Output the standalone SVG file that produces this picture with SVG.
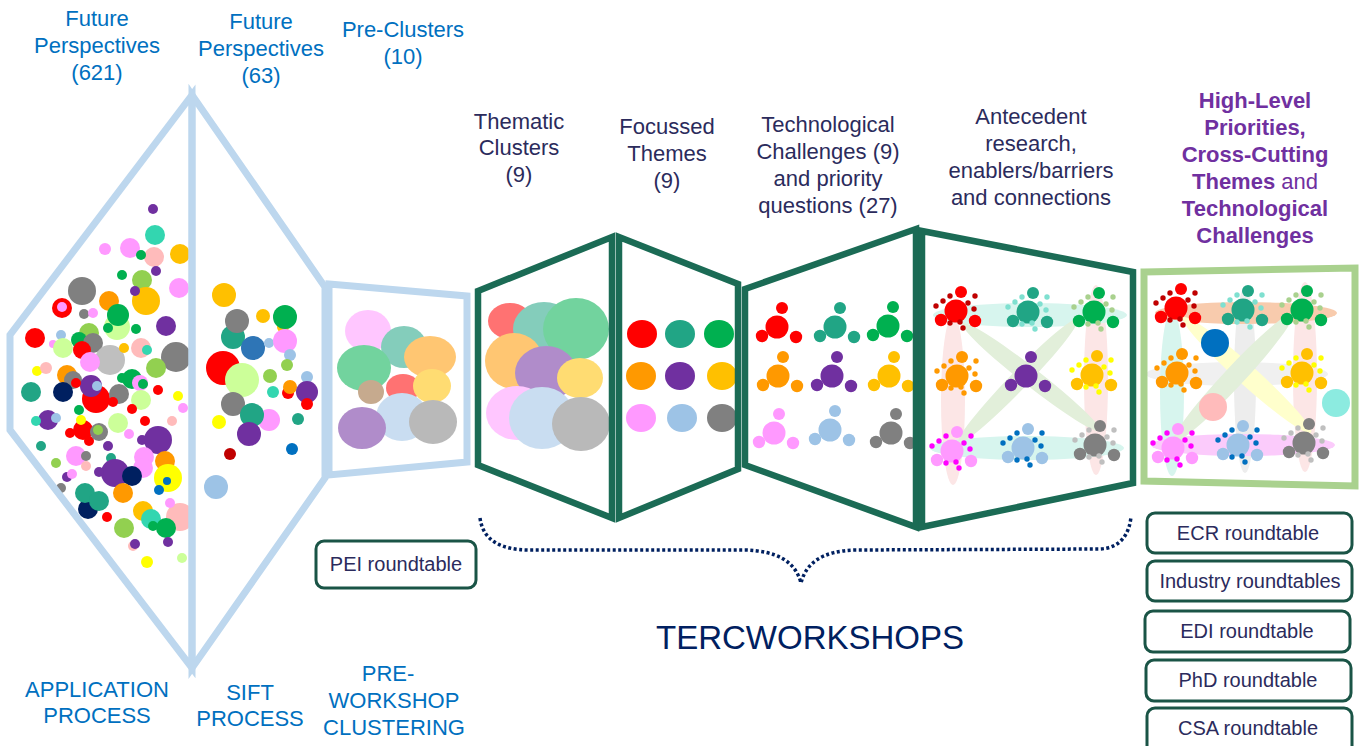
<svg xmlns="http://www.w3.org/2000/svg" xmlns:xlink="http://www.w3.org/1999/xlink" width="1363" height="746" viewBox="0 0 1363 746">
<style>
.r{fill:#FF0000}.tl{fill:#21A585}.g{fill:#00B050}.o{fill:#FF9900}.p{fill:#7030A0}.y{fill:#FFC000}
.pk{fill:#FF99FF}.lb{fill:#9DC3E6}.gy{fill:#808080}.lg{fill:#CCFF99}.yg{fill:#92D050}.tq{fill:#33D6B0}
.lp{fill:#FFBBBB}.nv{fill:#002060}.yl{fill:#FFFF00}.sv{fill:#BFBFBF}.bl{fill:#0070C0}.sb{fill:#2E75B6}.dr{fill:#C00000}
.out-lb{fill:none;stroke:#BDD7EE;stroke-width:7;stroke-linejoin:miter}
.out-dg{fill:none;stroke:#1B6B55;stroke-width:6.5;stroke-linejoin:miter}
.out-lg{fill:none;stroke:#A9D18E;stroke-width:7;stroke-linejoin:miter}
.tr{opacity:0.55}
.txt{font-family:"Liberation Sans",Arial,sans-serif;font-size:22px;text-anchor:middle}
.blue{fill:#0070C0}.dark{fill:#2B2B5C}.purp{fill:#7030A0;font-weight:bold}
.rt rect{fill:#FFFFFF;stroke:#1A5446;stroke-width:3}
.rt text{font-family:"Liberation Sans",Arial,sans-serif;font-size:20px;fill:#2B2B5C;text-anchor:middle}
.brace{fill:none;stroke:#002060;stroke-width:3.5;stroke-dasharray:3 2.5}
</style>
<defs>
<g id="tri"><circle r="11.5"/><circle cx="5" cy="-19" r="6"/><circle cx="-15" cy="9" r="6.2"/><circle cx="19" cy="10" r="6.2"/></g>
<g id="dots" fill="currentColor"><circle cx="-20" cy="-5" r="2.7"/><circle cx="-13" cy="-10" r="2.7"/><circle cx="-6" cy="-15" r="2.7"/><circle cx="19" cy="-15" r="2.7"/><circle cx="12" cy="-8" r="2.7"/><circle cx="18" cy="-2" r="2.7"/><circle cx="-6" cy="12" r="2.7"/><circle cx="4" cy="11" r="2.7"/><circle cx="7" cy="17" r="2.7"/></g>
</defs>
<rect width="1363" height="746" fill="#FFFFFF"/>

<g id="application-process">
<circle cx="153" cy="209" r="5" class="p"/><circle cx="155" cy="235" r="10" class="tq"/><circle cx="130" cy="248" r="10" class="pk"/><circle cx="105" cy="249" r="6" class="pk"/><circle cx="154" cy="257" r="10" class="lp"/><circle cx="141" cy="255" r="5" class="g"/><circle cx="180" cy="254" r="10" class="y"/><circle cx="156" cy="271" r="5" class="p"/><circle cx="122" cy="275" r="5" class="g"/><circle cx="142" cy="280" r="10" class="yg"/><circle cx="179" cy="288" r="10" class="pk"/><circle cx="82" cy="291" r="14" class="gy"/><circle cx="146" cy="301" r="14" class="y"/><circle cx="135" cy="291" r="5" class="p"/><circle cx="109" cy="301" r="10" class="o"/><circle cx="62" cy="308" r="10" class="r"/><circle cx="62" cy="307" r="5" class="pk"/><circle cx="84" cy="314" r="5" class="gy"/><circle cx="93" cy="313" r="5" class="pk"/><circle cx="117" cy="327" r="13" class="lg"/><circle cx="118" cy="315" r="11" class="g"/><circle cx="108" cy="328" r="5" class="g"/><circle cx="136" cy="329" r="5" class="g"/><circle cx="166" cy="326" r="10" class="p"/><circle cx="35" cy="338" r="10" class="r"/><circle cx="61" cy="335" r="5" class="lb"/><circle cx="89" cy="333" r="10" class="yg"/><circle cx="79" cy="340" r="8" class="g"/><circle cx="93" cy="343" r="10" class="gy"/><circle cx="53" cy="344" r="4" class="pk"/><circle cx="63" cy="348" r="10" class="lg"/><circle cx="82" cy="350" r="9" class="r"/><circle cx="141" cy="348" r="10" class="lp"/><circle cx="147" cy="350" r="5" class="tq"/><circle cx="110" cy="360" r="15" class="sv"/><circle cx="124" cy="348" r="5" class="y"/><circle cx="176" cy="357" r="15" class="gy"/><circle cx="90" cy="362" r="10" class="pk"/><circle cx="156" cy="368" r="10" class="yg"/><circle cx="37" cy="371" r="5" class="yl"/><circle cx="46" cy="368" r="6" class="lp"/><circle cx="67" cy="375" r="10" class="o"/><circle cx="73" cy="380" r="9" class="gy"/><circle cx="31" cy="392" r="10" class="tl"/><circle cx="63" cy="392" r="10" class="nv"/><circle cx="96" cy="399" r="14" class="r"/><circle cx="91" cy="386" r="11" class="p"/><circle cx="97" cy="386" r="5" class="lb"/><circle cx="76" cy="383" r="5" class="r"/><circle cx="119" cy="394" r="10" class="gy"/><circle cx="132" cy="379" r="10" class="g"/><circle cx="122" cy="378" r="5" class="g"/><circle cx="140" cy="383" r="8" class="pk"/><circle cx="143" cy="384" r="5" class="g"/><circle cx="141" cy="400" r="10" class="lg"/><circle cx="158" cy="390" r="5" class="r"/><circle cx="113" cy="402" r="5" class="r"/><circle cx="132" cy="409" r="5" class="r"/><circle cx="178" cy="396" r="5" class="yl"/><circle cx="183" cy="408" r="5" class="pk"/><circle cx="48" cy="420" r="10" class="p"/><circle cx="36" cy="421" r="5" class="tq"/><circle cx="56" cy="418" r="5" class="lb"/><circle cx="79" cy="410" r="5" class="g"/><circle cx="83" cy="430" r="10" class="r"/><circle cx="81" cy="420" r="5" class="yl"/><circle cx="70" cy="433" r="5" class="r"/><circle cx="89" cy="441" r="5" class="r"/><circle cx="99" cy="432" r="9" class="gy"/><circle cx="98" cy="430" r="5" class="yg"/><circle cx="118" cy="423" r="10" class="lg"/><circle cx="145" cy="421" r="5" class="r"/><circle cx="172" cy="421" r="5" class="lp"/><circle cx="129" cy="434" r="5" class="pk"/><circle cx="142" cy="440" r="5" class="p"/><circle cx="158" cy="440" r="14" class="p"/><circle cx="41" cy="446" r="5" class="tl"/><circle cx="108" cy="446" r="5" class="p"/><circle cx="76" cy="456" r="10" class="pk"/><circle cx="86" cy="456" r="5" class="gy"/><circle cx="56" cy="463" r="5" class="yg"/><circle cx="86" cy="466" r="5" class="lp"/><circle cx="111" cy="458" r="5" class="tl"/><circle cx="144" cy="457" r="10" class="pk"/><circle cx="143" cy="468" r="10" class="pk"/><circle cx="165" cy="461" r="10" class="o"/><circle cx="115" cy="473" r="14" class="p"/><circle cx="99" cy="472" r="5" class="p"/><circle cx="132" cy="476" r="10" class="nv"/><circle cx="168" cy="478" r="14" class="yl"/><circle cx="167" cy="481" r="4" class="bl"/><circle cx="159" cy="490" r="5" class="bl"/><circle cx="67" cy="477" r="5" class="p"/><circle cx="72" cy="474" r="5" class="pk"/><circle cx="61" cy="488" r="5" class="gy"/><circle cx="123" cy="493" r="10" class="o"/><circle cx="88" cy="509" r="10" class="nv"/><circle cx="85" cy="493" r="10" class="tl"/><circle cx="99" cy="501" r="10" class="tl"/><circle cx="107" cy="517" r="5" class="r"/><circle cx="143" cy="511" r="10" class="y"/><circle cx="151" cy="519" r="10" class="tq"/><circle cx="180" cy="517" r="14" class="lp"/><circle cx="170" cy="503" r="5" class="pk"/><circle cx="166" cy="528" r="10" class="g"/><circle cx="153" cy="526" r="5" class="g"/><circle cx="124" cy="528" r="10" class="yg"/><circle cx="133" cy="546" r="5" class="lp"/><circle cx="135" cy="544" r="5" class="p"/><circle cx="168" cy="542" r="5" class="p"/><circle cx="147" cy="562" r="6" class="yl"/><circle cx="182" cy="558" r="5" class="lg"/>
<polygon class="out-lb" points="192,95 10,335 10,430 192,668"/>
</g>

<g id="sift-process">
<circle cx="224" cy="295" r="12" class="y"/><circle cx="233" cy="337" r="12" class="tl"/><circle cx="237" cy="321" r="12" class="gy"/><circle cx="263" cy="316" r="7" class="y"/><circle cx="283" cy="327" r="6" class="y"/><circle cx="285" cy="317" r="12" class="g"/><circle cx="253" cy="348" r="12" class="sb"/><circle cx="269" cy="343" r="5" class="lb"/><circle cx="285" cy="341" r="12" class="pk"/><circle cx="290" cy="355" r="6" class="lb"/><circle cx="287" cy="365" r="6" class="yg"/><circle cx="223" cy="368" r="17" class="r"/><circle cx="242" cy="380" r="17" class="lg"/><circle cx="270" cy="376" r="7" class="yg"/><circle cx="307" cy="377" r="6" class="lb"/><circle cx="273" cy="392" r="6" class="tq"/><circle cx="288" cy="393" r="6" class="r"/><circle cx="290" cy="387" r="7" class="o"/><circle cx="307" cy="392" r="11" class="p"/><circle cx="307" cy="404" r="6" class="r"/><circle cx="233" cy="404" r="12" class="gy"/><circle cx="269" cy="420" r="11" class="pk"/><circle cx="252" cy="415" r="12" class="tl"/><circle cx="298" cy="419" r="6" class="tl"/><circle cx="219" cy="422" r="7" class="yl"/><circle cx="249" cy="434" r="12" class="p"/><circle cx="230" cy="454" r="6" class="dr"/><circle cx="292" cy="449" r="6" class="bl"/><circle cx="216" cy="487" r="12" class="lb"/>
<polygon class="out-lb" points="192,95 325,287 325,478 192,668"/>
</g>

<g id="pre-clusters">
<g class="tr">
<ellipse cx="368" cy="331" rx="23" ry="21" class="pk"/><ellipse cx="404" cy="347" rx="23" ry="21" class="tl"/><ellipse cx="430" cy="357" rx="26" ry="21" class="o"/><ellipse cx="364" cy="368" rx="27" ry="23" class="g"/><ellipse cx="403" cy="388" rx="17" ry="14" class="r"/><ellipse cx="371" cy="392" rx="13" ry="12" fill="#996633"/><ellipse cx="432" cy="386" rx="19" ry="17" class="y"/><ellipse cx="402" cy="417" rx="26" ry="24" class="lb"/><ellipse cx="362" cy="428" rx="24" ry="21" class="p"/><ellipse cx="433" cy="422" rx="24" ry="22" class="gy"/>
</g>
<polygon class="out-lb" points="329,284 467,296 467,462 329,475"/>
</g>

<g id="thematic-clusters">
<g class="tr">
<ellipse cx="510" cy="321" rx="22" ry="18" class="r"/><ellipse cx="544" cy="329" rx="31" ry="27" class="tl"/><ellipse cx="576" cy="329" rx="33" ry="31" class="g"/><ellipse cx="514" cy="361" rx="29" ry="28" class="o"/><ellipse cx="546" cy="373" rx="31" ry="27" class="p"/><ellipse cx="580" cy="378" rx="23" ry="20" class="y"/><ellipse cx="517" cy="413" rx="31" ry="27" class="pk"/><ellipse cx="542" cy="418" rx="33" ry="31" class="lb"/><ellipse cx="581" cy="424" rx="29" ry="27" class="gy"/>
</g>
<polygon class="out-dg" points="478,291 612,237 612,518 478,465"/>
</g>

<g id="focussed-themes">
<ellipse cx="642" cy="334" rx="15" ry="14" class="r"/><ellipse cx="680" cy="334" rx="15" ry="14" class="tl"/><ellipse cx="719" cy="334" rx="15" ry="14" class="g"/>
<ellipse cx="641" cy="376" rx="15" ry="14" class="o"/><ellipse cx="680" cy="376" rx="15" ry="14" class="p"/><ellipse cx="722" cy="376" rx="15" ry="14" class="y"/>
<ellipse cx="641" cy="418" rx="15" ry="14" class="pk"/><ellipse cx="682" cy="418" rx="15" ry="14" class="lb"/><ellipse cx="722" cy="418" rx="15" ry="14" class="gy"/>
<polygon class="out-dg" points="619,237 738,284 738,469 619,518"/>
</g>

<g id="technological-challenges">
<use href="#tri" x="777" y="327" fill="#FF0000"/><use href="#tri" x="835" y="327" fill="#21A585"/><use href="#tri" x="888" y="326" fill="#00B050"/>
<use href="#tri" x="778" y="376" fill="#FF9900"/><use href="#tri" x="832" y="376" fill="#7030A0"/><use href="#tri" x="889" y="376" fill="#FFC000"/>
<use href="#tri" x="774" y="433" fill="#FF99FF"/><use href="#tri" x="830" y="430" fill="#9DC3E6"/><use href="#tri" x="891" y="433" fill="#808080"/>
<polygon class="out-dg" points="745,289 916,229 916,527 745,465"/>
</g>

<g id="antecedent-research">
<ellipse cx="953" cy="400" rx="12" ry="85" fill="#FCE6E6"/>
<ellipse cx="1096" cy="380" rx="12" ry="95" fill="#FCE6E6"/>
<ellipse cx="1030" cy="315" rx="97" ry="12" fill="#D7F5EE"/>
<ellipse cx="1027" cy="448" rx="97" ry="12" fill="#D7F5EE"/>
<ellipse cx="1031" cy="377" rx="87" ry="9" fill="#E2EFDA" transform="rotate(38 1031 377)"/>
<ellipse cx="1018" cy="381" rx="86" ry="9" fill="#E2EFDA" transform="rotate(-46 1018 381)"/>
<use href="#tri" x="956" y="311" fill="#FF0000"/><use href="#dots" x="956" y="311" color="#C00000"/>
<use href="#tri" x="1028" y="312" fill="#21A585"/><use href="#dots" x="1028" y="312" color="#7FE0D0"/>
<use href="#tri" x="1094" y="312" fill="#00B050"/><use href="#dots" x="1094" y="312" color="#A9D18E"/>
<use href="#tri" x="957" y="376" fill="#FF9900"/><use href="#dots" x="957" y="376" color="#FF9900"/>
<use href="#tri" x="1026" y="376" fill="#7030A0"/>
<use href="#tri" x="1092" y="375" fill="#FFC000"/><use href="#dots" x="1092" y="375" color="#FFFF00"/>
<use href="#tri" x="952" y="451" fill="#FF99FF"/><use href="#dots" x="952" y="451" color="#FF00FF"/>
<use href="#tri" x="1023" y="448" fill="#9DC3E6"/><use href="#dots" x="1023" y="448" color="#0070C0"/>
<use href="#tri" x="1095" y="445" fill="#808080"/><use href="#dots" x="1095" y="445" color="#BFBFBF"/>
<polygon class="out-dg" points="922,231 1133,272 1133,483 922,527"/>
</g>

<g id="high-level-priorities">
<ellipse cx="1237" cy="374" rx="91" ry="12" fill="#F0F0F0"/>
<ellipse cx="1172" cy="393" rx="12" ry="83" fill="#D7F5EE"/>
<ellipse cx="1245" cy="380" rx="11" ry="93" fill="#EDEDED"/>
<ellipse cx="1305" cy="377" rx="12" ry="95" fill="#FCE6E6"/>
<ellipse cx="1246" cy="313" rx="91" ry="11" fill="#F8CBAD"/>
<ellipse cx="1243" cy="445" rx="92" ry="11" fill="#FBCBFB"/>
<ellipse cx="1247" cy="375" rx="86" ry="10" fill="#FFFFCC" transform="rotate(42 1247 375)"/>
<ellipse cx="1233" cy="378" rx="88" ry="10" fill="#E2EFDA" transform="rotate(-47 1233 378)"/>
<circle cx="1215" cy="343" r="14" fill="#0070C0"/>
<circle cx="1213" cy="407" r="14" fill="#FFBBBB"/>
<circle cx="1336" cy="403" r="14" fill="#8CEBE0"/>
<use href="#tri" x="1176" y="308" fill="#FF0000"/><use href="#dots" x="1176" y="308" color="#C00000"/>
<use href="#tri" x="1243" y="310" fill="#21A585"/><use href="#dots" x="1243" y="310" color="#7FE0D0"/>
<use href="#tri" x="1302" y="310" fill="#00B050"/><use href="#dots" x="1302" y="310" color="#A9D18E"/>
<use href="#tri" x="1177" y="373" fill="#FF9900"/><use href="#dots" x="1177" y="373" color="#FF9900"/>
<use href="#tri" x="1302" y="373" fill="#FFC000"/><use href="#dots" x="1302" y="373" color="#FFFF00"/>
<use href="#tri" x="1173" y="448" fill="#FF99FF"/><use href="#dots" x="1173" y="448" color="#FF00FF"/>
<use href="#tri" x="1238" y="445" fill="#9DC3E6"/><use href="#dots" x="1238" y="445" color="#0070C0"/>
<use href="#tri" x="1304" y="443" fill="#808080"/><use href="#dots" x="1304" y="443" color="#BFBFBF"/>
<polygon class="out-lg" points="1144,272 1355,268 1355,486 1144,481"/>
</g>

<g id="connectors">
<path class="brace" d="M 480 518 C 483 540, 500 550, 530 550 L 745 550 C 775 551, 795 560, 801 583 C 806 563, 822 551, 855 550 L 1100 549 C 1120 548, 1129 535, 1131 517"/>
</g>

<g id="labels-top">
<text class="txt blue"><tspan x="97" y="26">Future</tspan><tspan x="97" y="53">Perspectives</tspan><tspan x="97" y="80">(621)</tspan></text>
<text class="txt blue"><tspan x="261" y="29">Future</tspan><tspan x="261" y="56">Perspectives</tspan><tspan x="261" y="83">(63)</tspan></text>
<text class="txt blue"><tspan x="403" y="37">Pre-Clusters</tspan><tspan x="403" y="64">(10)</tspan></text>
<text class="txt dark"><tspan x="519" y="129">Thematic</tspan><tspan x="519" y="155">Clusters</tspan><tspan x="519" y="182">(9)</tspan></text>
<text class="txt dark"><tspan x="667" y="134">Focussed</tspan><tspan x="667" y="161">Themes</tspan><tspan x="667" y="188">(9)</tspan></text>
<text class="txt dark"><tspan x="828" y="132">Technological</tspan><tspan x="828" y="159">Challenges (9)</tspan><tspan x="828" y="186">and priority</tspan><tspan x="828" y="213">questions (27)</tspan></text>
<text class="txt dark"><tspan x="1031" y="124">Antecedent</tspan><tspan x="1031" y="151">research,</tspan><tspan x="1031" y="178">enablers/barriers</tspan><tspan x="1031" y="205">and connections</tspan></text>
<text class="txt purp"><tspan x="1255" y="108">High-Level</tspan><tspan x="1255" y="135">Priorities,</tspan><tspan x="1255" y="162">Cross-Cutting</tspan><tspan x="1255" y="189">Themes<tspan font-weight="normal"> and</tspan></tspan><tspan x="1255" y="216">Technological</tspan><tspan x="1255" y="243">Challenges</tspan></text>
</g>

<g id="labels-bottom">
<text class="txt blue"><tspan x="97" y="697">APPLICATION</tspan><tspan x="97" y="723">PROCESS</tspan></text>
<text class="txt blue"><tspan x="250" y="700">SIFT</tspan><tspan x="250" y="726">PROCESS</tspan></text>
<text class="txt blue"><tspan x="388" y="681">PRE-</tspan><tspan x="394" y="708">WORKSHOP</tspan><tspan x="394" y="735">CLUSTERING</tspan></text>
<text x="810" y="649" font-family="'Liberation Sans',Arial,sans-serif" font-size="33" fill="#002060" text-anchor="middle">TERCWORKSHOPS</text>
</g>

<g id="pei-roundtable" class="rt"><rect x="316" y="541" width="160" height="47" rx="8"/><text x="396" y="571">PEI roundtable</text></g>
<g id="ecr-roundtable" class="rt"><rect x="1147" y="513" width="205" height="40" rx="8"/><text x="1248" y="540">ECR roundtable</text></g>
<g id="industry-roundtables" class="rt"><rect x="1147" y="561" width="205" height="40" rx="8"/><text x="1250" y="588">Industry roundtables</text></g>
<g id="edi-roundtable" class="rt"><rect x="1145" y="611" width="205" height="41" rx="8"/><text x="1247" y="638">EDI roundtable</text></g>
<g id="phd-roundtable" class="rt"><rect x="1146" y="660" width="205" height="41" rx="8"/><text x="1248" y="687">PhD roundtable</text></g>
<g id="csa-roundtable" class="rt"><rect x="1147" y="708" width="205" height="46" rx="8"/><text x="1248" y="735">CSA roundtable</text></g>
</svg>
